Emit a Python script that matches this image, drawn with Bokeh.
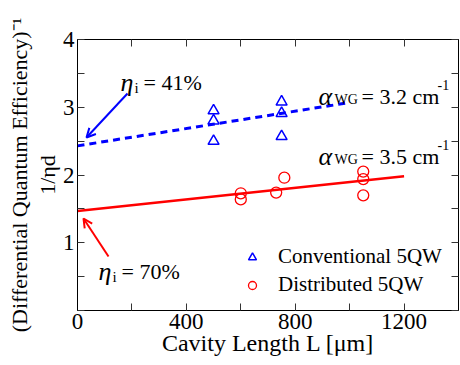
from bokeh.plotting import figure
from bokeh.models import (Range1d, LinearAxis, FixedTicker, Label, Legend, LegendItem,
                          Arrow, OpenHead, CustomJSTickFormatter, Title)
from bokeh.embed import file_html
from bokeh.resources import INLINE

# ---------------- data ----------------
conv_L = [500, 500, 500, 750, 750, 750]
conv_inv_eta = [2.95, 2.80, 2.50, 3.08, 2.91, 2.57]
dist_L = [600, 600, 730, 760, 1050, 1050, 1050]
dist_inv_eta = [1.73, 1.64, 1.74, 1.96, 2.05, 1.94, 1.70]
conv_fit_L = [0, 1000]
conv_fit_y = [2.43, 3.07]
dist_fit_L = [0, 1200]
dist_fit_y = [1.47, 1.98]
x_ticks = [0, 400, 800, 1200]
x_minor = [200, 600, 1000, 1400]
y_ticks = [0, 1, 2, 3, 4]
y_minor = [0.5, 1.5, 2.5, 3.5]

FONT = "Liberation Serif"
BLUE = "#0000ff"
RED = "#ff0000"

W, H = 460, 365
FL, FR, FT, FB = 77, 458, 39, 310
XMAX, YMAX = 1400, 4


def X(px):
    return (px - FL) * XMAX / (FR - FL)


def Y(py):
    return (FB - py) * YMAX / (FB - FT)


p = figure(frame_width=FR - FL, frame_height=FB - FT,
           min_border_left=FL, min_border_top=FT,
           min_border_right=W - FR, min_border_bottom=H - FB,
           x_range=Range1d(0, XMAX), y_range=Range1d(0, YMAX),
           output_backend="svg", toolbar_location=None,
           background_fill_color="white", border_fill_color="white")
p.outline_line_color = "black"
p.grid.visible = False


def style_axis(ax, show_labels):
    ax.major_tick_in = 7
    ax.major_tick_out = 0
    ax.minor_tick_in = 7
    ax.minor_tick_out = 0
    ax.axis_line_color = "black"
    ax.major_tick_line_color = "#333333"
    ax.minor_tick_line_color = "#333333"
    ax.major_label_text_font = FONT
    ax.major_label_text_color = "black"
    ax.major_label_text_font_size = "23px" if show_labels else "0px"
    ax.major_label_standoff = 3 if show_labels else 0
    if not show_labels:
        ax.formatter = CustomJSTickFormatter(code="return ''")


ax_bottom = p.xaxis[0]
ax_left = p.yaxis[0]
ax_bottom.ticker = FixedTicker(ticks=x_ticks, minor_ticks=x_minor)
ax_left.ticker = FixedTicker(ticks=y_ticks, minor_ticks=y_minor)
style_axis(ax_bottom, True)
style_axis(ax_left, True)
ax_left.major_label_overrides = {0: ""}

ax_top = LinearAxis(ticker=FixedTicker(ticks=x_ticks, minor_ticks=x_minor))
ax_right = LinearAxis(ticker=FixedTicker(ticks=y_ticks, minor_ticks=y_minor))
style_axis(ax_top, False)
style_axis(ax_right, False)
p.add_layout(ax_top, "above")
p.add_layout(ax_right, "right")

# axis titles
ax_bottom.axis_label = "Cavity Length L [μm]"
ax_bottom.axis_label_text_font = FONT
ax_bottom.axis_label_text_font_size = "24px"
ax_bottom.axis_label_text_font_style = "normal"
ax_bottom.axis_label_text_color = "black"
ax_bottom.axis_label_standoff = -2

ax_left.axis_label = "1/ηd"
ax_left.axis_label_text_font = FONT
ax_left.axis_label_text_font_size = "22px"
ax_left.axis_label_text_font_style = "normal"
ax_left.axis_label_text_color = "black"
ax_left.axis_label_standoff = 0

p.add_layout(Title(text="(Differential Quantum Efficiency)⁻¹", text_font=FONT,
                   text_font_size="22px", text_font_style="normal",
                   text_color="black", align="center", standoff=0), "left")

# ---------------- fit lines & data ----------------
p.line(conv_fit_L, conv_fit_y, line_color=BLUE, line_width=3, line_dash="7 5")
p.line(dist_fit_L, dist_fit_y, line_color=RED, line_width=2.5)
r_conv = p.scatter(conv_L, conv_inv_eta, marker="triangle", size=11,
                   fill_color=None, line_color=BLUE, line_width=1.5)
r_dist = p.scatter(dist_L, dist_inv_eta, marker="circle", size=11,
                   fill_color=None, line_color=RED, line_width=1.3)

legend = Legend(items=[LegendItem(label="Conventional 5QW", renderers=[r_conv]),
                       LegendItem(label="Distributed 5QW", renderers=[r_dist])],
                location=(165, 13), glyph_width=20, glyph_height=20,
                label_height=20, spacing=3, padding=0, margin=0,
                label_standoff=16, border_line_color=None,
                background_fill_alpha=0, label_text_font=FONT,
                label_text_font_size="21px", label_text_color="black")
p.add_layout(legend, "center")


# ---------------- annotations inside the frame ----------------
def lab(px, py, text, size, color="black", style="normal", align="left",
        baseline="alphabetic"):
    p.add_layout(Label(x=X(px), y=Y(py), text=text, text_font=FONT,
                       text_font_size=f"{size}px", text_color=color,
                       text_font_style=style, text_align=align,
                       text_baseline=baseline))


lab(120, 82, "η", 26, style="italic")
lab(134, 87, "i", 15)
lab(143, 82, "= 41%", 22)
lab(98, 271, "η", 26, style="italic")
lab(112, 276, "i", 15)
lab(121, 271, "= 70%", 22)
for base, val in ((96, "3.2"), (156, "3.5")):
    lab(318, base, "α", 26, style="italic")
    lab(334, base + 3, "WG", 14)
    lab(361, base, f"= {val} cm", 22)
    lab(437, base - 12, "-1", 14)

p.add_layout(Arrow(end=OpenHead(size=9, line_color=BLUE, line_width=2),
                   x_start=X(127), y_start=Y(93), x_end=X(86), y_end=Y(137),
                   line_color=BLUE, line_width=2))
p.add_layout(Arrow(end=OpenHead(size=9, line_color=RED, line_width=2),
                   x_start=X(108), y_start=Y(256), x_end=X(83), y_end=Y(218),
                   line_color=RED, line_width=2))

open("out.html", "w").write(file_html(p, INLINE))
